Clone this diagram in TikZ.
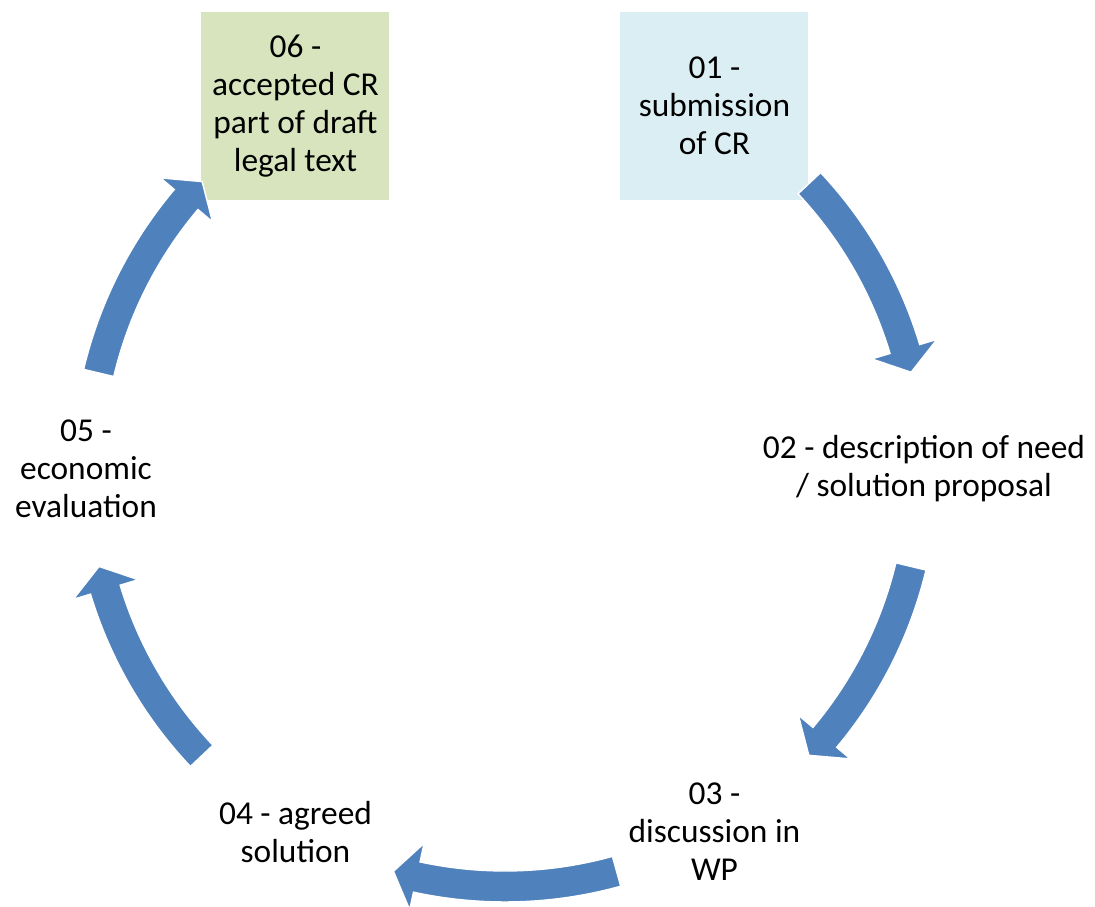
\documentclass[tikz,border=0pt]{standalone}
\usepackage{fontspec}
\setmainfont{Carlito}
\definecolor{arrowblue}{HTML}{4F81BD}
\definecolor{stepblue}{HTML}{DBEEF4}
\definecolor{stepgreen}{HTML}{D7E4BD}
\newcommand{\steptext}{\fontsize{19}{21.6}\selectfont}
\tikzstyle{stepbox} = [rectangle, minimum width=3.76cm, minimum height=3.76cm, align=center, font=\steptext]
\tikzstyle{steplabel} = [align=center, font=\steptext]
\tikzstyle{cycarrow} = [fill=arrowblue, draw=white, line width=0.8pt]
\newcommand{\cyclearrow}[2]{%
    \filldraw[cycarrow] (#1:8.04) arc[start angle=#1, end angle={#2+3.3}, radius=8.04]
        -- ({#2+3.3}:7.66) -- (#2:8.35) -- ({#2+3.3}:9.02) -- ({#2+3.3}:8.66)
        arc[start angle={#2+3.3}, end angle=#1, radius=8.66] -- cycle;}

\begin{document}
\begin{tikzpicture}
        \useasboundingbox (-10.1,-8.76) rectangle (11.8,9.38);
        \node (step01) [stepbox, fill=stepblue] at (60:8.38)
            {01 -\\submission\\of CR};
        \node (step02) [steplabel] at (0:8.38)
            {02 - description of need\\/ solution proposal};
        \node (step03) [steplabel] at (-60:8.38)
            {03 -\\discussion in\\WP};
        \node (step04) [steplabel] at (-120:8.38)
            {04 - agreed\\solution};
        \node (step05) [steplabel] at (180:8.38)
            {05 -\\economic\\evaluation};
        \node (step06) [stepbox, fill=stepgreen] at (120:8.38)
            {06 -\\accepted CR\\part of draft\\legal text};

        \cyclearrow{43.2}{13.4}
        \cyclearrow{-13.5}{-43.3}
        \cyclearrow{-74.5}{-105.5}
        \cyclearrow{-136.6}{-166.5}
        \cyclearrow{166.7}{136.5}
    \end{tikzpicture}
\end{document}
